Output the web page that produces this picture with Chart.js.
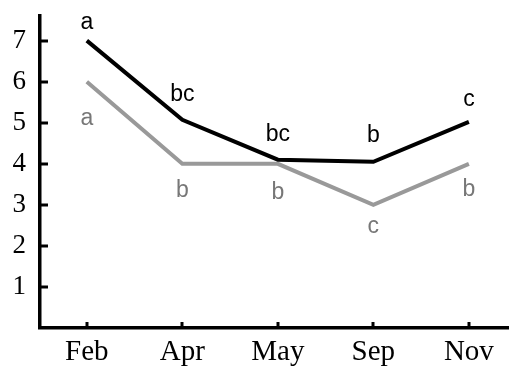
<!DOCTYPE html>
<html lang="en">
<head>
<meta charset="UTF-8">
<title>Seasonal chart</title>
<script src="https://cdn.jsdelivr.net/npm/chart.js"></script>
<style>
  html, body { margin: 0; padding: 0; background: #fff; }
  #wrap { width: 509px; height: 367px; }
</style>
</head>
<body>
<div id="wrap"><canvas id="chart"></canvas></div>
<script>
const months = ['Feb', 'Apr', 'May', 'Sep', 'Nov'];
const blackValues = [7.0, 5.07, 4.1, 4.05, 5.02];
const grayValues = [6.0, 4.0, 4.0, 3.0, 4.0];
const blackLetters = ['a', 'bc', 'bc', 'b', 'c'];
const grayLetters = ['a', 'b', 'b', 'c', 'b'];
const yTicks = [1, 2, 3, 4, 5, 6, 7];

// vertical offsets of the letters from their points (px)
const blackOffsets = [-18, -25, -25, -26, -22];
const grayOffsets = [37, 27, 29, 22, 26];

const toPoints = vals => vals.map((v, i) => ({ x: i, y: v }));

// letters above/below points plus inward tick marks
const letterPlugin = {
  id: 'letters',
  afterDatasetsDraw(chart) {
    const { ctx, scales: { x, y } } = chart;
    ctx.save();
    ctx.font = '23px "Liberation Sans", Arial, sans-serif';
    ctx.textAlign = 'center';
    ctx.textBaseline = 'middle';
    months.forEach((m, i) => {
      const px = x.getPixelForValue(i);
      ctx.fillStyle = '#000';
      ctx.fillText(blackLetters[i], px, y.getPixelForValue(blackValues[i]) + blackOffsets[i]);
      ctx.fillStyle = '#777';
      ctx.fillText(grayLetters[i], px, y.getPixelForValue(grayValues[i]) + grayOffsets[i]);
    });
    // tick marks pointing into the plot
    ctx.strokeStyle = '#000';
    ctx.lineWidth = 3;
    const left = chart.chartArea.left, bottom = chart.chartArea.bottom;
    yTicks.forEach(t => {
      const py = Math.round(y.getPixelForValue(t));
      ctx.beginPath();
      ctx.moveTo(left, py);
      ctx.lineTo(left + 8, py);
      ctx.stroke();
    });
    months.forEach((m, i) => {
      const px = Math.round(x.getPixelForValue(i));
      ctx.beginPath();
      ctx.moveTo(px, bottom);
      ctx.lineTo(px, bottom - 6);
      ctx.stroke();
    });
    ctx.restore();
  }
};

new Chart(document.getElementById('chart'), {
  type: 'line',
  data: {
    datasets: [
      {
        label: 'black',
        data: toPoints(blackValues),
        borderColor: '#000',
        borderWidth: 4,
        pointRadius: 0,
        tension: 0
      },
      {
        label: 'gray',
        data: toPoints(grayValues),
        borderColor: '#999',
        borderWidth: 4,
        pointRadius: 0,
        tension: 0
      }
    ]
  },
  options: {
    responsive: true,
    maintainAspectRatio: false,
    animation: false,
    layout: { padding: { top: 16, right: 0, left: 0, bottom: 0 } },
    plugins: {
      legend: { display: false },
      tooltip: { enabled: false }
    },
    scales: {
      x: {
        type: 'linear',
        min: -0.49,
        max: 4.42,
        grid: { display: false, drawTicks: false },
        border: { display: true, color: '#000', width: 3.5 },
        afterFit(scale) { scale.height = 39; scale.paddingLeft = 0; scale.paddingRight = 0; },
        afterBuildTicks(scale) { scale.ticks = months.map((m, i) => ({ value: i })); },
        ticks: {
          autoSkip: false,
          maxRotation: 0,
          padding: 7,
          color: '#000',
          font: { family: '"Liberation Serif", "Times New Roman", serif', size: 29 },
          callback: v => months[v] !== undefined ? months[v] : ''
        }
      },
      y: {
        min: 0,
        max: 7.6,
        grid: { display: false, drawTicks: false },
        border: { display: true, color: '#000', width: 3.5 },
        afterFit(scale) { scale.width = 40; scale.paddingTop = 0; scale.paddingBottom = 0; },
        afterBuildTicks(scale) { scale.ticks = yTicks.map(v => ({ value: v })); },
        ticks: {
          autoSkip: false,
          padding: 14,
          color: '#000',
          font: { family: '"Liberation Serif", "Times New Roman", serif', size: 27 },
          callback: v => String(v)
        }
      }
    }
  },
  plugins: [letterPlugin]
});
</script>
</body>
</html>
